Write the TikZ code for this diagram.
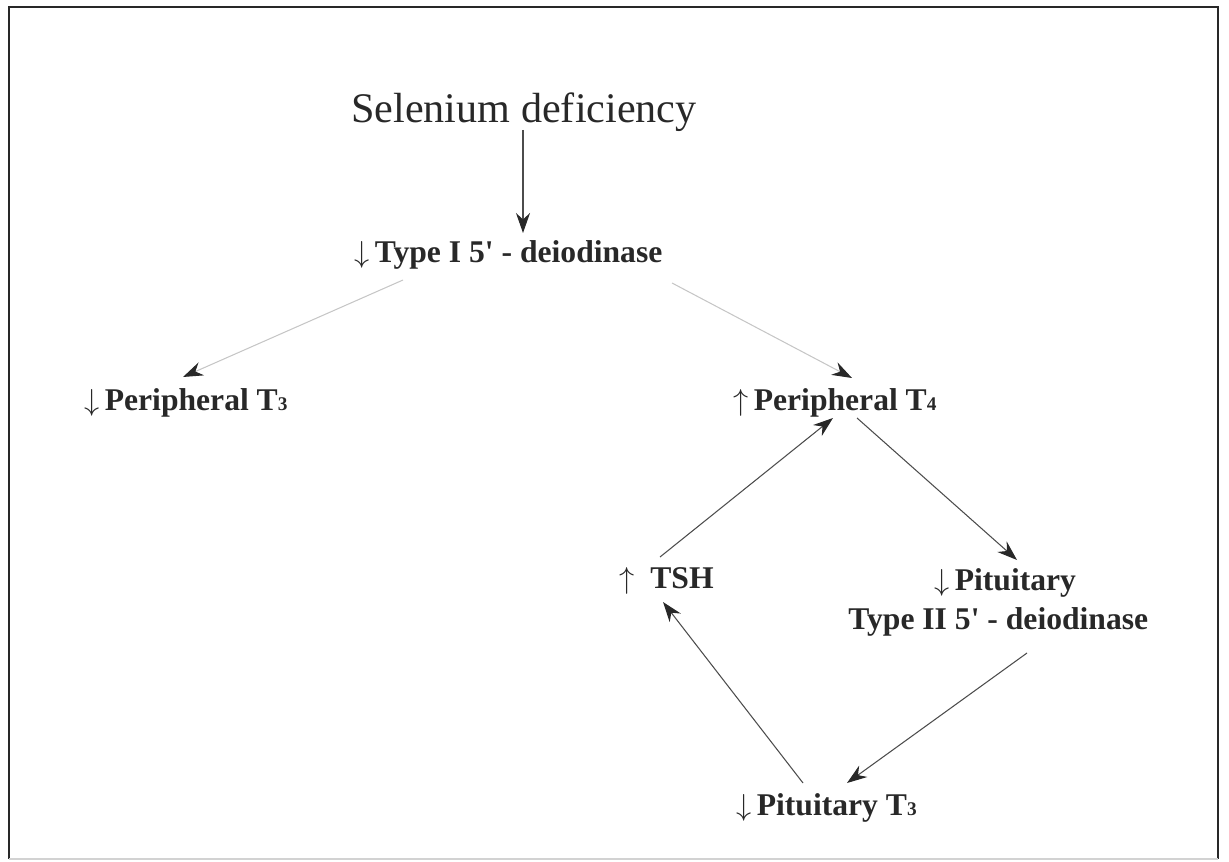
\documentclass[tikz,border=0pt]{standalone}
\usepackage{fontspec}
\setmainfont{Liberation Serif}
\usepackage{xcolor}
\definecolor{inkgray}{RGB}{40,40,40}
\usepackage{tikz}
\usetikzlibrary{arrows.meta,positioning,calc}

\newcommand{\tidx}[1]{{\fontsize{11}{11}\selectfont #1}}

\begin{document}
\begin{tikzpicture}[
    x=0.02cm, y=-0.02cm,
    title/.style={inner sep=0, anchor=base, font=\fontsize{24}{28}\selectfont, text=inkgray},
    label/.style={inner sep=0, anchor=base west, font=\fontsize{18}{22}\selectfont\bfseries, text=inkgray},
    arrow/.style={-{Stealth[length=4mm,width=2.8mm,inkgray]}, line width=0.6pt, black!70},
    faint/.style={arrow, gray!45}
]
\useasboundingbox (0,0) rectangle (1229,861);

% Frame
\draw[line width=1.3pt, inkgray] (9,859) -- (9,7) -- (1218,7) -- (1218,859);
\draw[line width=0.8pt, gray!35] (9,859) -- (1218,859);

% Nodes
\node[title] (sel) at (524,123) {Selenium deficiency};
\node[label] (typeI) at (354,263) {$\downarrow$\,Type I 5\textquotesingle\ - deiodinase};
\node[label] (perT3) at (84,410) {$\downarrow$\,Peripheral T\tidx{3}};
\node[label] (perT4) at (733,410) {$\uparrow$\,Peripheral T\tidx{4}};
\node[label] (tsh) at (619,588) {$\uparrow$\enspace TSH};
\node[label] (pit) at (934,590) {$\downarrow$\,Pituitary};
\node[label] (typeII) at (848,629) {Type II 5\textquotesingle\ - deiodinase};
\node[label] (pitT3) at (736,815) {$\downarrow$\,Pituitary T\tidx{3}};

% Arrows from the top
\draw[arrow] ([shift={(-1,7)}]sel.base) -- ([shift={(169,-30)}]typeI.base west);
\draw[faint] ([shift={(49,17)}]typeI.base west) -- ([shift={(99,-33)}]perT3.base west);
\draw[faint] ([shift={(318,20)}]typeI.base west) -- ([shift={(119,-32)}]perT4.base west);

% Feedback loop
\draw[arrow] ([shift={(124,8)}]perT4.base west) -- ([shift={(83,-30)}]pit.base west);
\draw[arrow] ([shift={(179,24)}]typeII.base west) -- ([shift={(111,-32)}]pitT3.base west);
\draw[arrow] ([shift={(67,-32)}]pitT3.base west) -- ([shift={(44,14)}]tsh.base west);
\draw[arrow] ([shift={(41,-31)}]tsh.base west) -- ([shift={(100,8)}]perT4.base west);
\end{tikzpicture}
\end{document}
